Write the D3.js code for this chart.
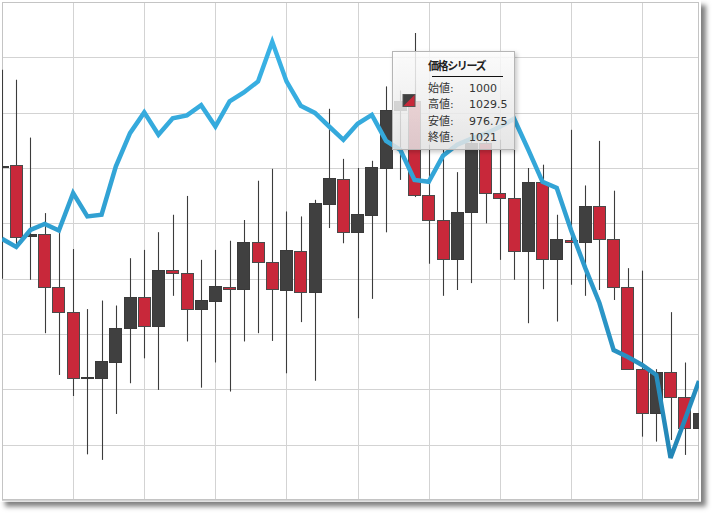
<!DOCTYPE html>
<html><head><meta charset="utf-8">
<script src="https://cdn.jsdelivr.net/npm/d3@7/dist/d3.min.js"></script>
<style>html,body{margin:0;padding:0;background:#fff;} svg{display:block;}</style>
</head><body>
<svg id="chart" width="718" height="518"></svg>
<script>
// ---- data ----
const opens  = [1000.4,1001.2,975.5,976.1,957.1,948.1,924.2,924.2,930.0,942.1,
                953.2,943.0,963.2,962.2,949.2,952.1,957.1,956.1,973.2,966.1,
                955.9,970.1,955.1,987.1,996.1,977.0,983.1,1000,1021,1024.1,
                990.1,981.2,967.1,984.2,1009.0,991.1,989.1,970.1,995.1,967.0,
                974.0,973.1,986.3,974.3,957.1,927.3,911.4,926.2,917.1,906.1];
const highs  = [1035.5,1031.9,1011.0,983.7,977.6,970.7,949.0,952.1,950.3,967.4,
                970.4,976.8,983.1,989.9,966.8,970.4,973.7,981.2,995.4,999.7,
                984.3,982.5,988.5,1021.4,1003.3,1000.0,1002.6,1029.5,1028.0,1048.8,
                1008.4,1006.6,998.5,1012.0,1010.9,1010.2,1006.6,1000.0,1001.2,983.1,
                1013.8,993.7,1009.8,991.8,963.8,962.9,927.3,947.9,929.7,939.1];
const lows   = [960.0,971.1,959.6,940.3,925.2,917.6,896.5,894.5,911.1,922.2,
                931.2,919.8,953.8,937.3,920.6,929.7,919.2,937.3,940.3,937.5,
                925.8,944.3,923.1,978.3,972.8,945.7,952.7,976.75,995.7,989.5,
                965.4,953.8,955.9,958.4,980.0,966.8,959.6,943.9,956.2,944.5,
                957.8,953.8,955.9,952.3,927.0,902.9,901.1,901.7,896.3,887.5];
const closes = [1000.8,975.2,976.0,957.1,948.1,924.2,924.5,930.3,942.3,953.2,
                943.0,963.2,962.2,949.2,952.2,957.3,956.2,973.2,966.1,956.2,
                970.2,955.1,987.3,996.3,977.0,983.2,1000.2,1021,1024.1,990.1,
                981.2,967.1,984.2,1009.0,991.1,989.1,970.1,995.1,967.0,974.3,
                973.1,986.3,974.3,957.1,927.3,911.4,926.4,917.1,906.1,911.4];
const lineValues = [974.4,971.5,977.6,979.8,977.4,990.9,982.5,983.1,1000.5,1012.6,
                    1020.1,1012.0,1018.0,1019.0,1022.7,1015.0,1024.1,1027.3,1031.3,1045.6,
                    1031.3,1022.5,1019.9,1015.0,1010.2,1016.0,1019.2,1009.8,1006.6,995.7,
                    995.0,1004.4,1008.4,1010.6,1012.4,1014.9,1017.8,1006.6,995.0,992.8,
                    977.6,963.9,951.2,934.2,931.7,928.8,925.2,895.2,908.9,923.0];
const yTicks = [880,900,920,940,960,980,1000,1020,1040,1060];
const xTicks = [0,5,10,15,20,25,30,35,40,45];
const tooltipTitle = "価格シリーズ";
const tooltipLabels = ["始値:","高値:","安値:","終値:"];
const tooltipValues = ["1000","1029.5","976.75","1021"];

// ---- layout ----
const svg = d3.select("#chart");
const L = 2, T = 2, R = 699, B = 500;
const x = d3.scaleLinear().domain([0, opens.length - 1]).range([L, R]);
const y = d3.scaleLinear().domain([880, 1060]).range([B, T]);
const RED = "#c8283a", DARK = "#404040";

const defs = svg.append("defs");
const fs = defs.append("filter").attr("id","panelShadow")
  .attr("x","-5%").attr("y","-5%").attr("width","115%").attr("height","115%");
fs.append("feDropShadow").attr("dx",5).attr("dy",5).attr("stdDeviation",2.6)
  .attr("flood-color","#000").attr("flood-opacity",0.5);
const ft = defs.append("filter").attr("id","tipShadow")
  .attr("x","-10%").attr("y","-10%").attr("width","130%").attr("height","130%");
ft.append("feDropShadow").attr("dx",2).attr("dy",2).attr("stdDeviation",2)
  .attr("flood-color","#000").attr("flood-opacity",0.25);
defs.append("clipPath").attr("id","plotClip").append("rect")
  .attr("x",L).attr("y",T).attr("width",R-L).attr("height",B-T);
const lg = defs.append("linearGradient").attr("id","lineGrad")
  .attr("gradientUnits","userSpaceOnUse").attr("x1",0).attr("x2",0).attr("y1",40).attr("y2",460);
lg.append("stop").attr("offset","0%").attr("stop-color","#3ab3e6");
lg.append("stop").attr("offset","100%").attr("stop-color","#2386b6");
const tg = defs.append("linearGradient").attr("id","tipGrad")
  .attr("x1",0).attr("x2",0).attr("y1",0).attr("y2",1);
tg.append("stop").attr("offset","0%").attr("stop-color","#ffffff");
tg.append("stop").attr("offset","100%").attr("stop-color","#e6e6e6");

// panel
svg.append("rect").attr("x",0).attr("y",0).attr("width",R+2).attr("height",B+1.5)
  .attr("fill","#fff").attr("filter","url(#panelShadow)");

// gridlines via axes
const gy = svg.append("g").attr("transform",`translate(${L},0)`)
  .call(d3.axisLeft(y).tickValues(yTicks).tickSize(-(R-L)).tickFormat(""));
const gx = svg.append("g").attr("transform",`translate(0,${B})`)
  .call(d3.axisBottom(x).tickValues(xTicks).tickSize(-(B-T)).tickFormat(""));
[gy,gx].forEach(g=>{
  g.select(".domain").remove();
  g.selectAll(".tick line").attr("stroke","#d3d3d3").attr("stroke-width",1)
    .attr("shape-rendering","crispEdges");
});

// border
svg.append("rect").attr("x",L+0.5).attr("y",T+0.5).attr("width",R-L-1).attr("height",B-T-1)
  .attr("fill","none").attr("stroke","#c4c4c4").attr("shape-rendering","crispEdges");

const plot = svg.append("g").attr("clip-path","url(#plotClip)");
const idx = d3.range(opens.length);
const bw = (x(1) - x(0)) * 0.9;

// wicks
plot.selectAll("line.wick").data(idx).join("line").attr("class","wick")
  .attr("x1",i=>Math.round(x(i))+0.5).attr("x2",i=>Math.round(x(i))+0.5)
  .attr("y1",i=>y(highs[i])).attr("y2",i=>y(lows[i]))
  .attr("stroke","#3c3c3c").attr("stroke-width",1.1);

// bodies
plot.selectAll("rect.body").data(idx).join("rect").attr("class","body")
  .attr("x",i=>Math.round(x(i)-bw/2)+0.5)
  .attr("width",Math.round(bw)-1)
  .attr("y",i=>Math.round(y(Math.max(opens[i],closes[i])))+0.5)
  .attr("height",i=>Math.max(1,Math.round(y(Math.min(opens[i],closes[i])))-Math.round(y(Math.max(opens[i],closes[i])))))
  .attr("fill",i=>closes[i]>=opens[i]?DARK:RED)
  .attr("stroke",i=>closes[i]>=opens[i]?"#3a3a3a":"#4a4a4a")
  .attr("stroke-width",1);

// line series
plot.append("path").datum(idx)
  .attr("d",d3.line().x(i=>x(i)).y(i=>y(lineValues[i])))
  .attr("fill","none").attr("stroke","url(#lineGrad)").attr("stroke-width",4.5)
  .attr("stroke-linejoin","miter").attr("stroke-miterlimit",3);

// tooltip
const tip = svg.append("g").attr("transform","translate(392.5,51.5)");
tip.append("rect").attr("width",122).attr("height",98)
  .attr("fill","url(#tipGrad)").attr("fill-opacity",0.82)
  .attr("stroke","#b5b5b5").attr("stroke-width",1).attr("filter","url(#tipShadow)");
const font = "'DejaVu Sans','Noto Sans CJK JP',sans-serif";
tip.append("text").attr("x",35.5).attr("y",18.5).text(tooltipTitle)
  .attr("font-family","'Noto Sans CJK JP',sans-serif").attr("font-weight","bold")
  .attr("font-size",11).attr("letter-spacing","-1.4px").attr("fill","#222");
tip.append("line").attr("x1",39.5).attr("x2",110.5).attr("y1",25).attr("y2",25)
  .attr("stroke","#111").attr("stroke-width",1);
// icon
const ic = tip.append("g").attr("transform","translate(10.5,43)");
ic.append("rect").attr("width",12).attr("height",12).attr("fill",DARK);
ic.append("path").attr("d","M12,0 L12,12 L0,12 Z").attr("fill",RED);
ic.append("rect").attr("width",12).attr("height",12).attr("fill","none").attr("stroke","#555");
tooltipLabels.forEach((lab,k)=>{
  tip.append("text").attr("x",35.5).attr("y",40.5+k*16.3).text(lab)
    .attr("font-family",font).attr("font-size",11).attr("fill","#333");
  tip.append("text").attr("x",76.5).attr("y",40.5+k*16.3).text(tooltipValues[k])
    .attr("font-family",font).attr("font-size",11).attr("fill","#333");
});
</script>
</body></html>
